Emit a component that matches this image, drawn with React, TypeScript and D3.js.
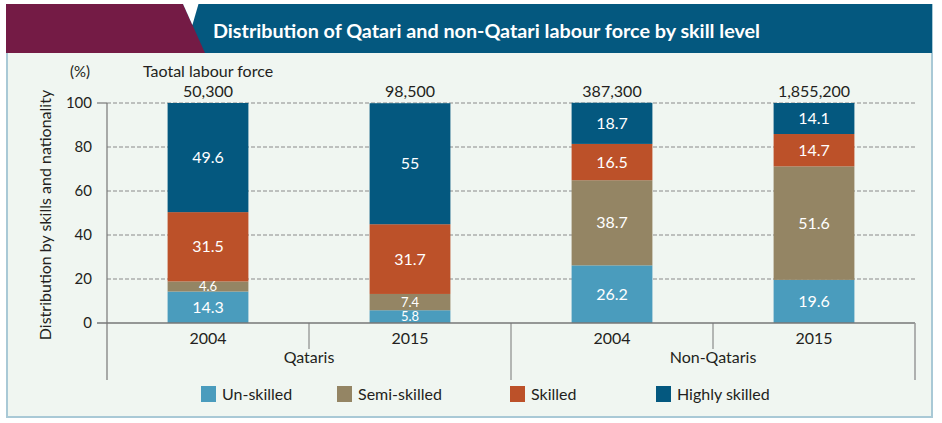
import * as d3 from 'd3';

// data
const bars = ['Q2004', 'Q2015', 'N2004', 'N2015'];
const years = ['2004', '2015', '2004', '2015'];
const groups = ['Qataris', 'Non-Qataris'];
const totals = ['50,300', '98,500', '387,300', '1,855,200'];
const skills = ['Un-skilled', 'Semi-skilled', 'Skilled', 'Highly skilled'];
const unSkilled = [14.3, 5.8, 26.2, 19.6];
const semiSkilled = [4.6, 7.4, 38.7, 51.6];
const skilled = [31.5, 31.7, 16.5, 14.7];
const highlySkilled = [49.6, 55, 18.7, 14.1];
const yTicks = [0, 20, 40, 60, 80, 100];

const colors = ['#4a9cbd', '#948564', '#bc5129', '#04587f'];
const font = 'Lato, "Open Sans", sans-serif';
const ink = '#231f20';

export default function App() {
  const W = 942, H = 423;
  const left = 107, right = 915, y0 = 323, y100 = 103;

  const x = d3.scaleBand().domain(bars).range([left, right]).paddingInner(0.6).paddingOuter(0.3);
  const y = d3.scaleLinear().domain([0, 100]).range([y0, y100]);
  const step = x.step();
  const mid = (b: string) => x(b)! + x.bandwidth() / 2;

  const series = [unSkilled, semiSkilled, skilled, highlySkilled];
  const table = bars.map((b, i) => {
    const row: any = { key: b };
    skills.forEach((s, k) => (row[s] = series[k][i]));
    return row;
  });
  const stacked = d3.stack().keys(skills)(table);

  return (
    <svg width={W} height={H} style={{ display: 'block', position: 'absolute', left: 0, top: 0 }} fontFamily={font}>
      {/* frame */}
      <rect x={7} y={5} width={925} height={412} fill="#f0f6f1" stroke="#a9c9d6" strokeWidth={2} />
      {/* header */}
      <polygon points="6,4 932,4 932,53 6,53" fill="#04587f" />
      <polygon points="6,4 183,4 205,53 6,53" fill="#741b45" />
      <polygon points="183,4 198.5,4 192.4,25" fill="#ffffff" />
      <text x={213} y={38} fill="#fff" fontSize={19} fontWeight="bold" textLength={547} lengthAdjust="spacingAndGlyphs">
        Distribution of Qatari and non-Qatari labour force by skill level
      </text>

      {/* gridlines */}
      {yTicks.filter(t => t > 0).map(t => (
        <line key={t} x1={left} x2={right} y1={y(t)} y2={y(t)} stroke="#8a8a8a" strokeWidth={1} strokeDasharray="4,2" />
      ))}

      {/* bars */}
      {stacked.map((layer, k) => (
        <g key={skills[k]} fill={colors[k]}>
          {layer.map((d, i) => (
            <rect key={i} x={x(bars[i])} width={x.bandwidth()} y={y(d[1])} height={y(d[0]) - y(d[1])} />
          ))}
        </g>
      ))}
      {stacked.map((layer, k) => (
        <g key={'l' + k}>
          {layer.map((d, i) => {
            const h = y(d[0]) - y(d[1]);
            return (
              <text key={i} x={mid(bars[i])} y={y((d[0] + d[1]) / 2)} dy="0.35em" textAnchor="middle" fill="#fff" fontSize={h < 18 ? 13 : 16}>
                {series[k][i]}
              </text>
            );
          })}
        </g>
      ))}

      {/* y axis */}
      <line x1={left} x2={left} y1={y100} y2={380} stroke="#777" strokeWidth={1.2} />
      <line x1={97} x2={right} y1={y0} y2={y0} stroke="#777" strokeWidth={1.5} />
      <line x1={97} x2={left} y1={y100} y2={y100} stroke="#777" strokeWidth={1.2} />
      {yTicks.map(t => (
        <text key={t} x={92} y={y(t)} dy="0.35em" textAnchor="end" fontSize={15} fill={ink}>{t}</text>
      ))}
      <text x={80} y={77} textAnchor="middle" fontSize={15} fill={ink}>(%)</text>
      <text transform="translate(51,215) rotate(-90)" textAnchor="middle" fontSize={16} fill={ink}>
        Distribution by skills and nationality
      </text>

      {/* totals */}
      <text x={mid(bars[0])} y={77} textAnchor="middle" fontSize={16} fill={ink}>Taotal labour force</text>
      {totals.map((t, i) => (
        <text key={i} x={mid(bars[i])} y={97} textAnchor="middle" fontSize={16} fill={ink}>{t}</text>
      ))}

      {/* category axis */}
      {bars.map((b, i) => (
        <text key={b} x={mid(b)} y={344} textAnchor="middle" fontSize={16} fill={ink}>{years[i]}</text>
      ))}
      {[1, 3].map(i => (
        <line key={i} x1={left + i * step} x2={left + i * step} y1={y0} y2={349} stroke="#777" strokeWidth={1} />
      ))}
      <line x1={left + 2 * step} x2={left + 2 * step} y1={y0} y2={380} stroke="#777" strokeWidth={1} />
      <line x1={right} x2={right} y1={y0} y2={380} stroke="#999" strokeWidth={1.5} />
      {groups.map((g, i) => (
        <text key={g} x={left + (2 * i + 1) * step} y={363} textAnchor="middle" fontSize={16} fill={ink}>{g}</text>
      ))}

      {/* legend */}
      {skills.map((s, k) => {
        const lx = [201, 337, 510, 656][k];
        return (
          <g key={s}>
            <rect x={lx} y={386} width={15} height={16} fill={colors[k]} />
            <text x={lx + 21} y={400} fontSize={16} fill={ink}>{s}</text>
          </g>
        );
      })}
    </svg>
  );
}
